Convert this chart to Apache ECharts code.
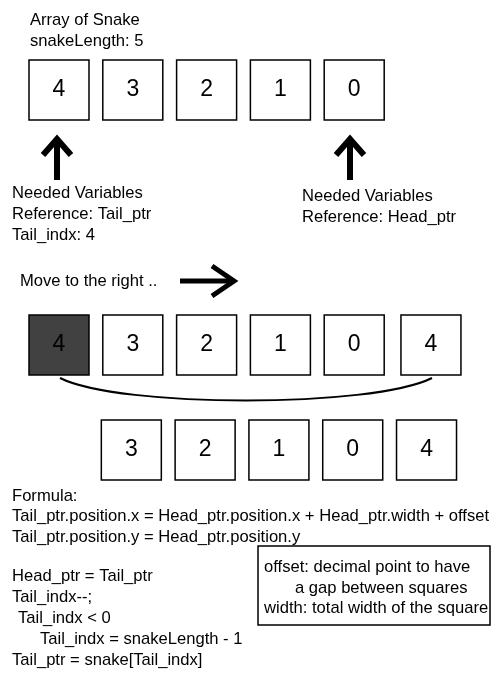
<!DOCTYPE html>
<html><head><meta charset="utf-8">
<script src="https://cdn.jsdelivr.net/npm/echarts@6/dist/echarts.min.js"></script>
<style>html,body{margin:0;background:#fff}#c{width:500px;height:700px}</style>
</head><body><div id="c"></div>
<script>
// snake cells: slot index along the row, row centre, label
const rowTop = [0, 1, 2, 3, 4]
const rowTopLabels = ['4', '3', '2', '1', '0']
const rowMid = [0, 1, 2, 3, 4, 5.04]
const rowMidLabels = ['4', '3', '2', '1', '0', '4']
const rowBot = [1, 2, 3, 4, 5]
const rowBotLabels = ['3', '2', '1', '0', '4']
const rowY = [90, 345, 450]

const font = '"Liberation Sans", Arial, sans-serif'
const cells = []
rowTop.forEach((s, i) => cells.push([s, rowY[0], rowTopLabels[i], 0]))
rowMid.forEach((s, i) => cells.push([s, rowY[1], rowMidLabels[i], i === 0 ? 1 : 0]))
rowBot.forEach((s, i) => cells.push([s - 0.02, rowY[2], rowBotLabels[i], 0]))

const txt = (x, y, t) => ({ type: 'text', left: x, top: y, style: { text: t, font: '16.6px ' + font, fill: '#000' } })
const upArrow = cx => ({
  type: 'group', children: [
    { type: 'polyline', shape: { points: [[cx, 141], [cx, 180]] }, style: { stroke: '#000', lineWidth: 6 } },
    { type: 'polyline', shape: { points: [[cx - 14, 155], [cx, 139], [cx + 14, 155]] }, style: { stroke: '#000', lineWidth: 6, fill: null } }
  ]
})

const chart = echarts.init(document.getElementById('c'))
chart.setOption({
  animation: false,
  grid: { left: 0, right: 0, top: 0, bottom: 0 },
  xAxis: { type: 'value', min: -59 / 73.8, max: (500 - 59) / 73.8, show: false },
  yAxis: { type: 'value', min: 0, max: 700, inverse: true, show: false },
  series: [{
    type: 'custom',
    data: cells,
    renderItem: (params, api) => {
      const p = api.coord([api.value(0), api.value(1)])
      const dark = api.value(3) === 1
      return {
        type: 'group',
        children: [
          { type: 'rect', shape: { x: p[0] - 30, y: p[1] - 30, width: 60, height: 60 },
            style: { fill: dark ? '#414141' : '#fff', stroke: '#000', lineWidth: 1.5 } },
          { type: 'text', x: p[0], y: p[1],
            style: { text: cells[params.dataIndex][2], font: '23px ' + font, fill: '#000', align: 'center', verticalAlign: 'middle' } }
        ]
      }
    }
  }],
  graphic: [
    txt(30, 12, 'Array of Snake'), txt(30, 33, 'snakeLength: 5'),
    upArrow(57), upArrow(350),
    txt(12, 185, 'Needed Variables'), txt(12, 206, 'Reference: Tail_ptr'), txt(12, 227, 'Tail_indx: 4'),
    txt(302, 188, 'Needed Variables'), txt(302, 209, 'Reference: Head_ptr'),
    txt(20, 273, 'Move to the right ..'),
    { type: 'polyline', shape: { points: [[180, 281], [232, 281]] }, style: { stroke: '#000', lineWidth: 5 } },
    { type: 'polyline', shape: { points: [[212, 266], [234, 281], [212, 296]] }, style: { stroke: '#000', lineWidth: 5, fill: null } },
    { type: 'bezierCurve', shape: { x1: 60, y1: 378, x2: 432, y2: 378, cpx1: 120, cpy1: 408, cpx2: 372, cpy2: 408 },
      style: { stroke: '#000', lineWidth: 2, fill: null } },
    txt(12, 488, 'Formula:'),
    txt(12, 508, 'Tail_ptr.position.x = Head_ptr.position.x + Head_ptr.width + offset'),
    txt(12, 529, 'Tail_ptr.position.y = Head_ptr.position.y'),
    txt(12, 568, 'Head_ptr = Tail_ptr'),
    txt(12, 589, 'Tail_indx--;'),
    txt(18, 610, 'Tail_indx < 0'),
    txt(40, 631, 'Tail_indx = snakeLength - 1'),
    txt(12, 652, 'Tail_ptr = snake[Tail_indx]'),
    { type: 'rect', shape: { x: 258, y: 546, width: 232, height: 79 }, style: { fill: null, stroke: '#000', lineWidth: 1.5 } },
    txt(264, 559, 'offset: decimal point to have'),
    txt(295, 580, 'a gap between squares'),
    txt(264, 600, 'width: total width of the square')
  ]
})
</script></body></html>
